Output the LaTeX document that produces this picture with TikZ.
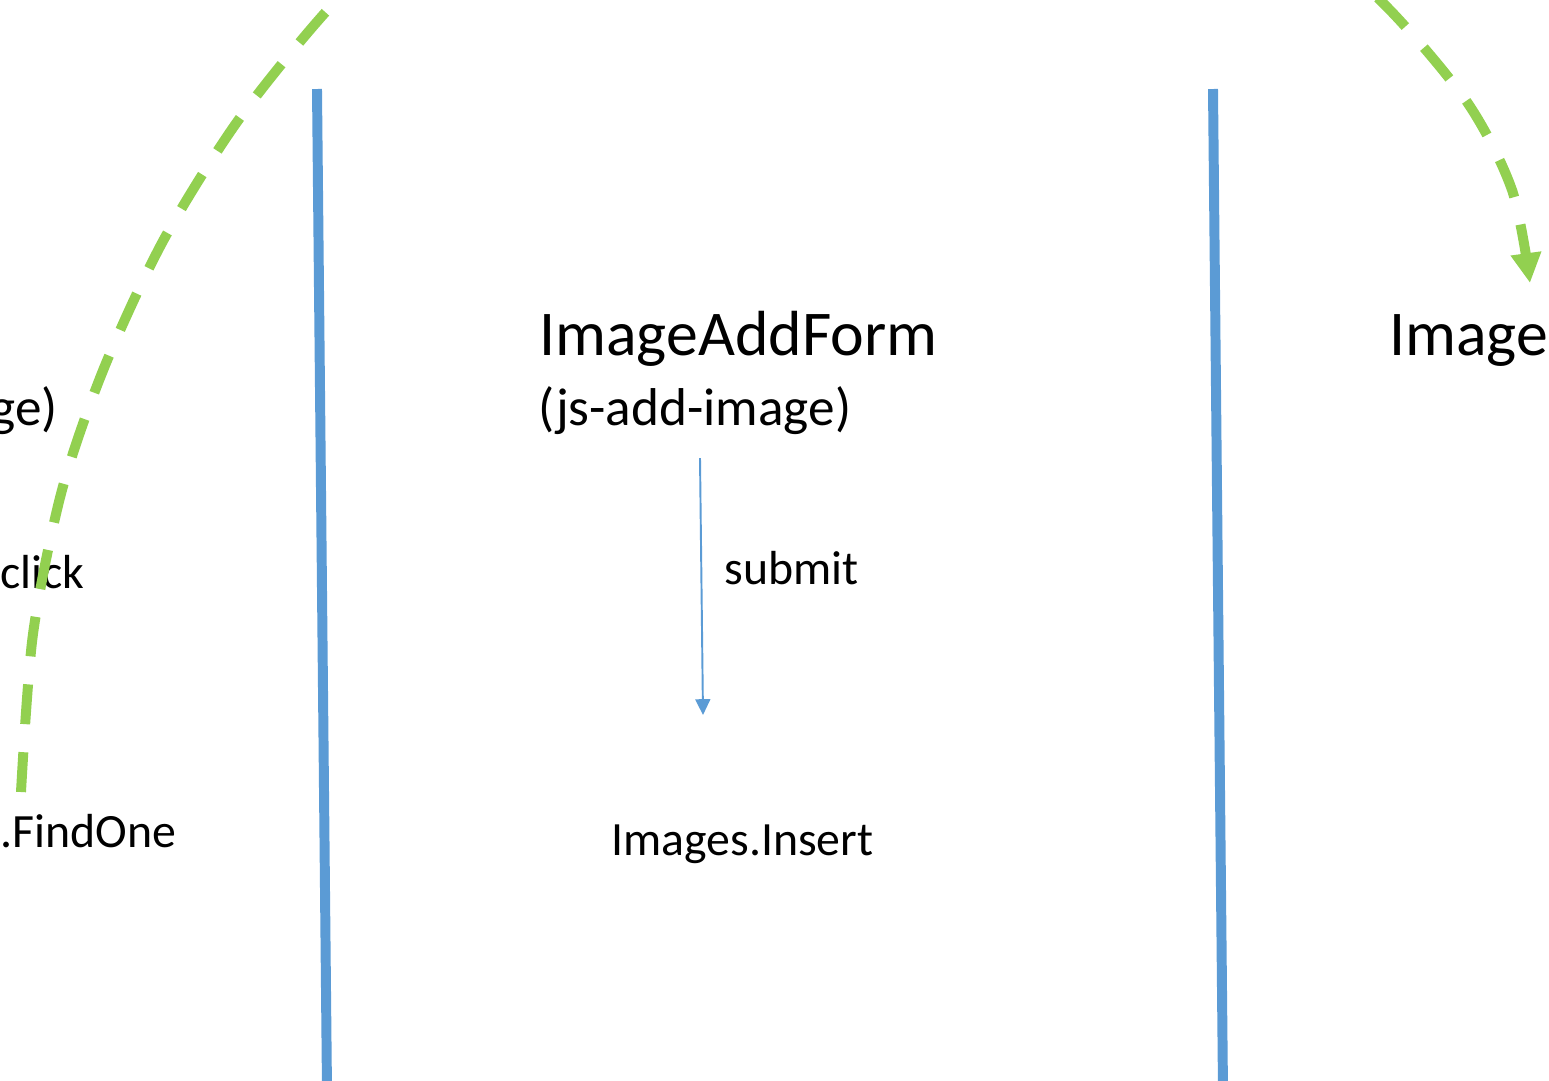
\documentclass[tikz,border=0pt]{standalone}
\usepackage{fontspec}
\setmainfont{Carlito}
\usetikzlibrary{arrows.meta, positioning}
\definecolor{laneblue}{RGB}{91,155,213}
\definecolor{flowgreen}{RGB}{146,208,80}

\begin{document}
\begin{tikzpicture}[x=0.02cm, y=-0.02cm,
  titletext/.style={font=\fontsize{36.3}{40}\selectfont, inner sep=0pt, anchor=base west},
  subtext/.style={font=\fontsize{30.3}{34}\selectfont, inner sep=0pt, anchor=base west},
  calltext/.style={font=\fontsize{27.2}{31}\selectfont, inner sep=0pt, anchor=base west},
  lane/.style={laneblue, line width=5.67pt},
  flow/.style={flowgreen, line width=5.67pt, dash pattern=on 22.7pt off 16pt,
    -{Triangle[width=16.5pt, length=17pt]}},
  call/.style={laneblue, line width=1.1pt, -{Triangle[width=8.5pt, length=9pt]}}]
\useasboundingbox (0,0) rectangle (1549,1080);
\clip (0,0) rectangle (1549,1080);

% lanes
\draw[lane] (317,89) -- (327,1090);
\draw[lane] (1213,89) -- (1223,1090);

% left column (cut off)
\node[subtext, anchor=base east] (leftsub) at (58,425) {ge)};
\node[calltext] (clicktext) at (0,588) {click};
\node[calltext] (findone) at (0,847) {.FindOne};

% middle column
\node[titletext] (addform) at (539,355) {ImageAddForm};
\node[subtext] (addformsub) at (538,425) {(js-add-image)};
\node[calltext] (submittext) at (724,584) {submit};
\node[calltext] (insert) at (611,855) {Images.Insert};

% right column (cut off)
\node[titletext] (rightform) at (1389,355) {Image};

% submit call
\coordinate (submitstart) at (700,458);
\coordinate (submitend) at (703,715);
\draw[call] (submitstart) -- (submitend);

% flow from the left column over to the right one
\coordinate (flowstart) at (21,792);
\coordinate (flowend) at (1530,283);
\draw[flow] plot[smooth] coordinates {(flowstart) (33,634) (62,490) (104,368)
  (163,241) (237,122) (323,15) (399,-60) (550,-170) (750,-225) (950,-220)
  (1150,-150) (1300,-65) (1385,5) (1467,102) (1512,190) (flowend)};
\end{tikzpicture}
\end{document}
